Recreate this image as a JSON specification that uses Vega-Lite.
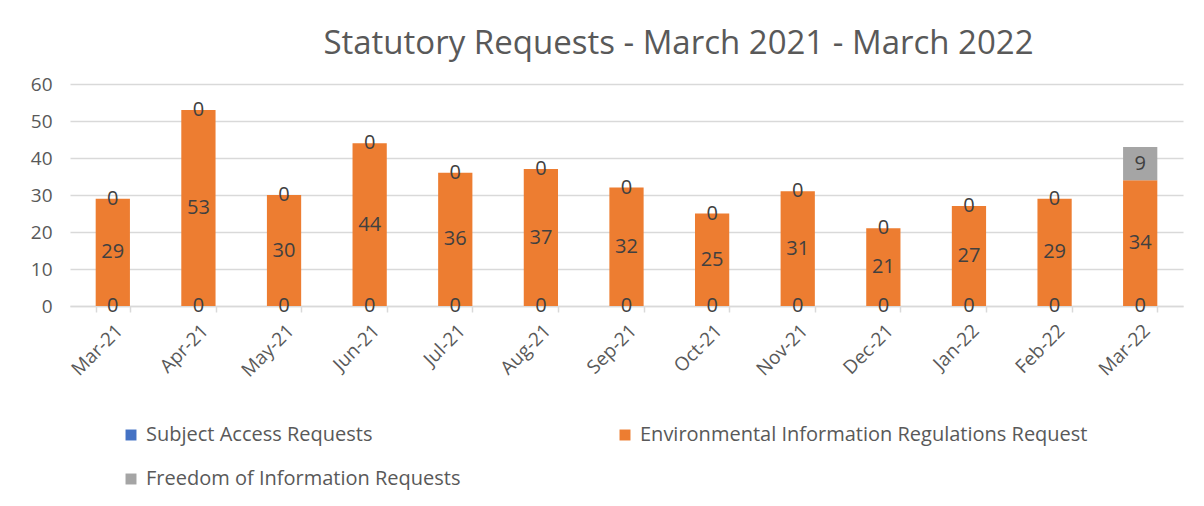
{
  "$schema": "https://vega.github.io/schema/vega-lite/v6.json",
  "width": 1113,
  "height": 222,
  "autosize": {"type": "none"},
  "padding": {"left": 70, "top": 84, "right": 21, "bottom": 200},
  "background": "white",
  "title": {
    "text": "Statutory Requests - March 2021 - March 2022",
    "fontSize": 33,
    "fontWeight": "normal",
    "font": "Open Sans",
    "color": "#595959",
    "anchor": "middle",
    "dx": 52,
    "offset": 14
  },
  "data": {
    "values": [
      {"month": "Mar-21", "series": "Subject Access Requests", "ord": 1, "value": 0},
      {"month": "Mar-21", "series": "Environmental Information Regulations Request", "ord": 2, "value": 29},
      {"month": "Mar-21", "series": "Freedom of Information Requests", "ord": 3, "value": 0},
      {"month": "Apr-21", "series": "Subject Access Requests", "ord": 1, "value": 0},
      {"month": "Apr-21", "series": "Environmental Information Regulations Request", "ord": 2, "value": 53},
      {"month": "Apr-21", "series": "Freedom of Information Requests", "ord": 3, "value": 0},
      {"month": "May-21", "series": "Subject Access Requests", "ord": 1, "value": 0},
      {"month": "May-21", "series": "Environmental Information Regulations Request", "ord": 2, "value": 30},
      {"month": "May-21", "series": "Freedom of Information Requests", "ord": 3, "value": 0},
      {"month": "Jun-21", "series": "Subject Access Requests", "ord": 1, "value": 0},
      {"month": "Jun-21", "series": "Environmental Information Regulations Request", "ord": 2, "value": 44},
      {"month": "Jun-21", "series": "Freedom of Information Requests", "ord": 3, "value": 0},
      {"month": "Jul-21", "series": "Subject Access Requests", "ord": 1, "value": 0},
      {"month": "Jul-21", "series": "Environmental Information Regulations Request", "ord": 2, "value": 36},
      {"month": "Jul-21", "series": "Freedom of Information Requests", "ord": 3, "value": 0},
      {"month": "Aug-21", "series": "Subject Access Requests", "ord": 1, "value": 0},
      {"month": "Aug-21", "series": "Environmental Information Regulations Request", "ord": 2, "value": 37},
      {"month": "Aug-21", "series": "Freedom of Information Requests", "ord": 3, "value": 0},
      {"month": "Sep-21", "series": "Subject Access Requests", "ord": 1, "value": 0},
      {"month": "Sep-21", "series": "Environmental Information Regulations Request", "ord": 2, "value": 32},
      {"month": "Sep-21", "series": "Freedom of Information Requests", "ord": 3, "value": 0},
      {"month": "Oct-21", "series": "Subject Access Requests", "ord": 1, "value": 0},
      {"month": "Oct-21", "series": "Environmental Information Regulations Request", "ord": 2, "value": 25},
      {"month": "Oct-21", "series": "Freedom of Information Requests", "ord": 3, "value": 0},
      {"month": "Nov-21", "series": "Subject Access Requests", "ord": 1, "value": 0},
      {"month": "Nov-21", "series": "Environmental Information Regulations Request", "ord": 2, "value": 31},
      {"month": "Nov-21", "series": "Freedom of Information Requests", "ord": 3, "value": 0},
      {"month": "Dec-21", "series": "Subject Access Requests", "ord": 1, "value": 0},
      {"month": "Dec-21", "series": "Environmental Information Regulations Request", "ord": 2, "value": 21},
      {"month": "Dec-21", "series": "Freedom of Information Requests", "ord": 3, "value": 0},
      {"month": "Jan-22", "series": "Subject Access Requests", "ord": 1, "value": 0},
      {"month": "Jan-22", "series": "Environmental Information Regulations Request", "ord": 2, "value": 27},
      {"month": "Jan-22", "series": "Freedom of Information Requests", "ord": 3, "value": 0},
      {"month": "Feb-22", "series": "Subject Access Requests", "ord": 1, "value": 0},
      {"month": "Feb-22", "series": "Environmental Information Regulations Request", "ord": 2, "value": 29},
      {"month": "Feb-22", "series": "Freedom of Information Requests", "ord": 3, "value": 0},
      {"month": "Mar-22", "series": "Subject Access Requests", "ord": 1, "value": 0},
      {"month": "Mar-22", "series": "Environmental Information Regulations Request", "ord": 2, "value": 34},
      {"month": "Mar-22", "series": "Freedom of Information Requests", "ord": 3, "value": 9}
    ]
  },
  "transform": [
    {"stack": "value", "groupby": ["month"], "sort": [{"field": "ord", "order": "ascending"}], "as": ["y0", "y1"]},
    {"calculate": "(datum.y0 + datum.y1) / 2", "as": "ymid"}
  ],
  "encoding": {
    "x": {
      "field": "month",
      "type": "nominal",
      "sort": null,
      "scale": {"paddingInner": 0.6, "paddingOuter": 0.3},
      "axis": {
        "title": null,
        "labelAngle": -45,
        "labelAlign": "right",
        "labelBaseline": "top",
        "labelFontSize": 19,
        "labelFont": "Open Sans",
        "labelColor": "#595959",
        "labelPadding": 9,
        "labelOverlap": false,
        "domainColor": "#D9D9D9",
        "domainWidth": 1.5,
        "tickColor": "#D9D9D9",
        "tickWidth": 1.5,
        "tickSize": 6,
        "tickBand": "extent",
        "grid": false
      }
    }
  },
  "layer": [
    {
      "mark": {"type": "bar"},
      "encoding": {
        "y": {
          "field": "y0",
          "type": "quantitative",
          "scale": {"domain": [0, 60]},
          "axis": {
            "title": null,
            "values": [0, 10, 20, 30, 40, 50, 60],
            "tickCount": 7,
            "labelOverlap": false,
            "labelFontSize": 19,
            "labelFont": "Open Sans",
            "labelColor": "#595959",
            "labelPadding": 18,
            "domain": false,
            "ticks": false,
            "gridColor": "#D9D9D9",
            "gridWidth": 1.5
          }
        },
        "y2": {"field": "y1"},
        "color": {
          "field": "series",
          "type": "nominal",
          "sort": ["Subject Access Requests", "Environmental Information Regulations Request", "Freedom of Information Requests"],
          "scale": {
            "domain": ["Subject Access Requests", "Environmental Information Regulations Request", "Freedom of Information Requests"],
            "range": ["#4472C4", "#ED7D31", "#A5A5A5"]
          },
          "legend": {
            "title": null,
            "orient": "none",
            "legendX": 51,
            "legendY": 341,
            "columns": 2,
            "direction": "horizontal",
            "columnPadding": 154,
            "rowPadding": 24,
            "symbolType": "square",
            "symbolSize": 120,
            "symbolStrokeWidth": 0,
            "labelFontSize": 20,
            "labelFont": "Open Sans",
            "labelColor": "#595959",
            "labelLimit": 700,
            "labelOffset": 5
          }
        }
      }
    },
    {
      "mark": {"type": "text", "fontSize": 20, "font": "Open Sans", "color": "#404040", "baseline": "middle", "align": "center"},
      "encoding": {
        "y": {
          "field": "ymid",
          "type": "quantitative",
          "axis": {
            "title": null,
            "values": [0, 10, 20, 30, 40, 50, 60],
            "tickCount": 7,
            "labelOverlap": false,
            "labelFontSize": 19,
            "labelFont": "Open Sans",
            "labelColor": "#595959",
            "labelPadding": 18,
            "domain": false,
            "ticks": false,
            "gridColor": "#D9D9D9",
            "gridWidth": 1.5
          }
        },
        "text": {"field": "value", "type": "quantitative"}
      }
    }
  ],
  "config": {"view": {"stroke": null}}
}
